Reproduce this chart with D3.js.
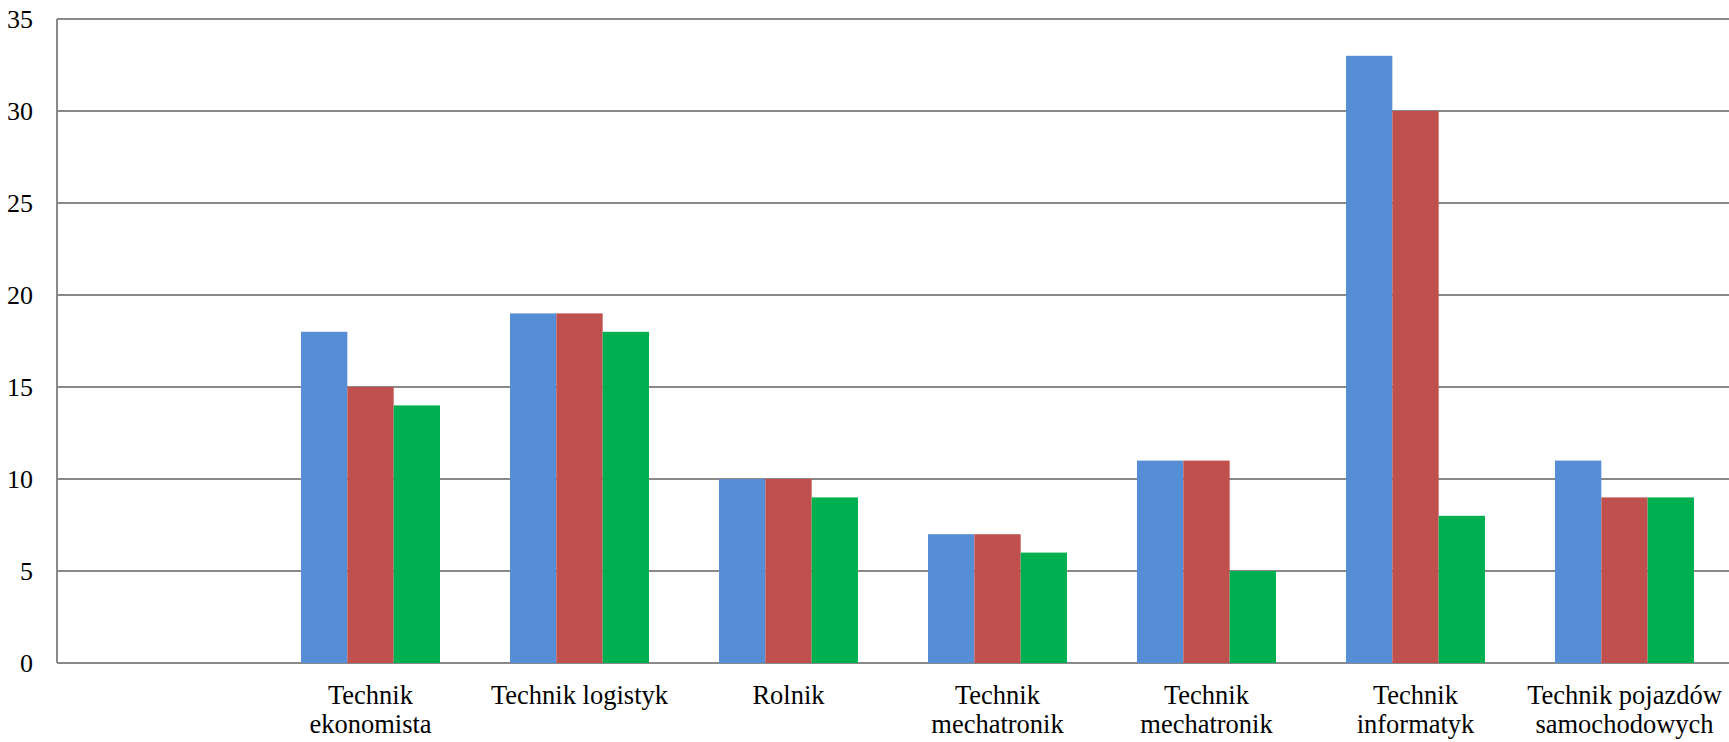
<!DOCTYPE html>
<html>
<head>
<meta charset="utf-8">
<script src="https://cdn.jsdelivr.net/npm/d3@7"></script>
<style>
    body { margin: 0; background: #fff; }
</style>
</head>
<body>
<svg id="chart"></svg>
<script>
const WIDTH = 1729,
    HEIGHT = 742;

const FONT = 'Liberation Serif';

// first category is empty in the original
const categories = ['', 'Technik ekonomista', 'Technik logistyk', 'Rolnik', 'Technik mechatronik',
    'Technik mechatronik', 'Technik informatyk', 'Technik pojazdów samochodowych'];
const labelLines = [[], ['Technik', 'ekonomista'], ['Technik logistyk'], ['Rolnik'],
    ['Technik', 'mechatronik'], ['Technik', 'mechatronik'], ['Technik', 'informatyk'],
    ['Technik pojazdów', 'samochodowych']];
const series1 = [null, 18, 19, 10, 7, 11, 33, 11];
const series2 = [null, 15, 19, 10, 7, 11, 30, 9];
const series3 = [null, 14, 18, 9, 6, 5, 8, 9];
const yTicks = [0, 5, 10, 15, 20, 25, 30, 35];
const colors = ['#558ED5', '#C0504D', '#00B050'];

const margin = { top: 19, right: 0, bottom: 79, left: 57 };

const svg = d3.select('svg#chart')
    .attr('width', WIDTH)
    .attr('height', HEIGHT);

const x = d3.scaleBand()
    .domain(d3.range(categories.length))
    .range([margin.left, WIDTH - margin.right])
    .paddingInner(0.335)
    .paddingOuter(0.335 / 2);

const xGroup = d3.scaleBand()
    .domain([0, 1, 2])
    .range([0, x.bandwidth()]);

const y = d3.scaleLinear()
    .domain([0, 35])
    .range([HEIGHT - margin.bottom, margin.top]);

// gridlines
svg.append('g')
    .attr('class', 'grid')
    .selectAll('line')
    .data(yTicks)
    .enter().append('line')
        .attr('x1', margin.left)
        .attr('x2', WIDTH - margin.right)
        .attr('y1', d => y(d))
        .attr('y2', d => y(d))
        .attr('stroke', '#898989')
        .attr('stroke-width', 2);

// left axis line
svg.append('line')
    .attr('x1', margin.left)
    .attr('x2', margin.left)
    .attr('y1', y(35))
    .attr('y2', y(0))
    .attr('stroke', '#898989')
    .attr('stroke-width', 2);

// tick labels
svg.append('g')
    .selectAll('text')
    .data(yTicks)
    .enter().append('text')
        .attr('x', 33)
        .attr('y', d => y(d))
        .attr('dy', '0.34em')
        .attr('text-anchor', 'end')
        .attr('font-family', FONT)
        .attr('font-size', 26)
        .text(d => d);

const seriesData = [series1, series2, series3];

const group = svg.append('g')
    .attr('class', 'bars')
    .selectAll('g')
    .data(seriesData)
    .enter().append('g')
        .attr('fill', (d, i) => colors[i]);

group.each(function(values, s) {
    d3.select(this)
        .selectAll('rect')
        .data(values.map((v, i) => ({ v, i })).filter(d => d.v != null))
        .enter().append('rect')
            .attr('x', d => x(d.i) + xGroup(s))
            .attr('width', xGroup.bandwidth())
            .attr('y', d => y(d.v))
            .attr('height', d => y(0) - y(d.v));
});

// category labels
const labels = svg.append('g')
    .selectAll('text')
    .data(labelLines)
    .enter().append('text')
        .attr('text-anchor', 'middle')
        .attr('font-family', FONT)
        .attr('font-size', 26.5);

labels.selectAll('tspan')
    .data((d, i) => d.map(line => ({ line, i })))
    .enter().append('tspan')
        .attr('x', d => x(d.i) + x.bandwidth() / 2)
        .attr('y', (d, j) => 704 + j * 29)
        .text(d => d.line);
</script>
</body>
</html>
